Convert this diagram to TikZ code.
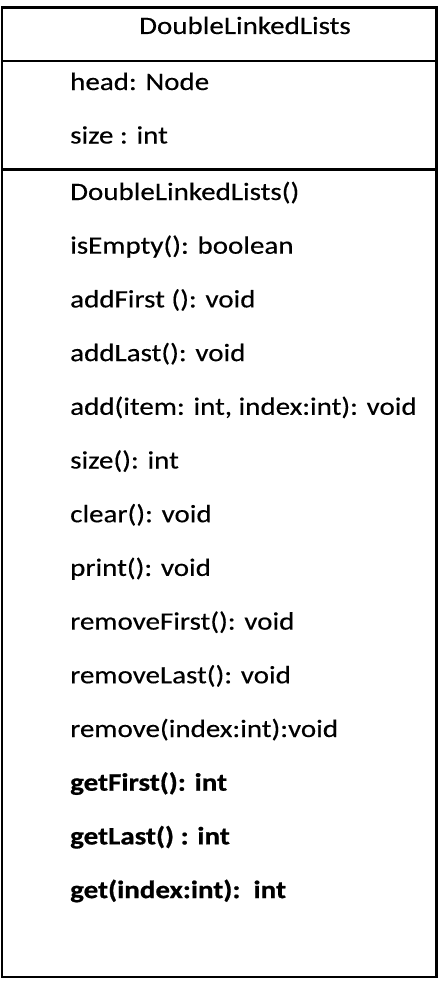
\documentclass[tikz,border=0pt]{standalone}
\usepackage{fontspec}
\setmainfont{Carlito}[FakeStretch=1.16,
  UprightFeatures={FakeBold=0.35}, BoldFeatures={FakeBold=0.7}]
\usetikzlibrary{positioning}
\begin{document}
\begin{tikzpicture}[x=1pt,y=-1pt,
    classbox/.style = {line width=2.4pt},
    member/.style   = {anchor=base west, inner sep=0pt,
      font=\fontsize{25}{30}\selectfont},
    boldmember/.style = {member, font=\fontsize{25}{30}\selectfont\bfseries},
    title/.style    = {member, anchor=base},
  ]
  \useasboundingbox (0,0) rectangle (442,982);
  % class box and its compartments
  \coordinate (nw) at (2,7.5);
  \coordinate (se) at (436.5,977);
  \draw[classbox] (nw) rectangle (se);
  \draw[classbox] (2,61) -- (436.5,61);
  \draw[classbox] (2,169.5) -- (436.5,169.5);
  % name
  \node[title] (name) at (245,34) {DoubleLinkedLists};
  % attributes
  \node[member] (head) at (70,90) {head: Node};
  \node[member] (sizeattr) at (70,143.5) {size : int};
  % operations
  \node[member] (ctor)        at (70,200)   {DoubleLinkedLists()};
  \node[member] (isEmpty)     at (70,253.7) {isEmpty(): boolean};
  \node[member] (addFirst)    at (70,307.4) {addFirst (): void};
  \node[member] (addLast)     at (70,361.1) {addLast(): void};
  \node[member] (add)         at (70,414.8) {add(item: int, index:int): void};
  \node[member] (size)        at (70,468.5) {size(): int};
  \node[member] (clear)       at (70,522.2) {clear(): void};
  \node[member] (print)       at (70,575.9) {print(): void};
  \node[member] (removeFirst) at (70,629.6) {removeFirst(): void};
  \node[member] (removeLast)  at (70,683.3) {removeLast(): void};
  \node[member] (remove)      at (70,737)   {remove(index:int):void};
  \node[boldmember] (getFirst) at (70,790.7) {getFirst(): int};
  \node[boldmember] (getLast)  at (70,844.4) {getLast() : int};
  \node[boldmember] (get)      at (70,898.1) {get(index:int):\ \ int};
\end{tikzpicture}
\end{document}
